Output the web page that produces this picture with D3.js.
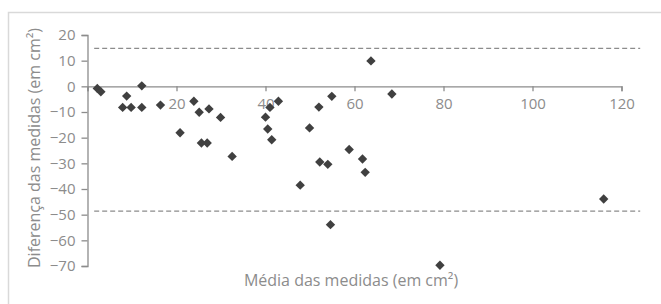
<!DOCTYPE html>
<html>
<head>
<meta charset="utf-8">
<script src="https://cdn.jsdelivr.net/npm/d3@7"></script>
<style>
  body { margin: 0; background: #fff; }
  svg text { font-family: "Open Sans", Lato, sans-serif; }
</style>
</head>
<body>
<svg id="chart"></svg>
<script>
/* Data */
const mediaValues = [2.2, 3.0, 7.9, 8.8, 9.8, 12.2, 12.2, 16.4, 20.8, 23.9, 25.1, 25.6, 26.9, 27.3, 29.9,
  32.5, 40.0, 40.5, 41.0, 41.4, 42.9, 47.8, 49.9, 52.0, 52.2, 54.0, 54.6, 54.9, 58.8, 61.8, 62.4,
  63.7, 68.4, 79.2, 116.0];
const diferencaValues = [-0.8, -2.1, -8.2, -3.8, -8.2, -8.2, 0.2, -7.3, -18.1, -5.8, -10.1, -22.1, -22.1, -8.8, -12.1,
  -27.3, -12.0, -16.6, -8.2, -20.8, -5.8, -38.5, -16.2, -8.1, -29.5, -30.4, -53.9, -3.9, -24.6, -28.3, -33.5,
  9.9, -3.0, -69.7, -43.9];
const limitValues = [14.8, -48.6];
const limitRange = [1.5, 124.2];
const xTicks = [0, 20, 40, 60, 80, 100, 120];
const yTicks = [20, 10, 0, -10, -20, -30, -40, -50, -60, -70];
const xTitle = "Média das medidas (em cm²)";
const yTitle = "Diferença das medidas (em cm²)";

const drawChart = () => {
  /* Define size */
  const width = 661,
    height = 304;

  const data = mediaValues.map((m, i) => ({ x: m, y: diferencaValues[i] }));

  const svg = d3.select("#chart").attr("width", width).attr("height", height);

  /* Frame */
  svg.append("rect")
    .attr("x", 8.5).attr("y", 12.5)
    .attr("width", 670).attr("height", 310)
    .attr("fill", "none")
    .attr("stroke", "#d9d9d9")
    .attr("stroke-width", 1.5);

  /* Build Scales */
  const xScale = d3.scaleLinear().domain([0, 120]).range([87.5, 621.5]);
  const yScale = d3.scaleLinear().domain([-70, 20]).range([266, 35]);

  /* Axes */
  const yAxis = d3.axisLeft(yScale).tickValues(yTicks).tickSize(6).tickPadding(6);
  const gy = svg.append("g")
    .attr("transform", `translate(${xScale(0)},0)`)
    .call(yAxis);

  const xAxis = d3.axisBottom(xScale)
    .tickValues(xTicks)
    .tickSize(5)
    .tickPadding(7)
    .tickFormat((d) => (d === 0 ? "" : d));
  const gx = svg.append("g")
    .attr("transform", `translate(0,${yScale(0)})`)
    .call(xAxis);

  [gx, gy].forEach((g) => {
    g.select(".domain").attr("stroke", "#8c8c8c").attr("stroke-width", 1.3);
    g.selectAll(".tick line").attr("stroke", "#8c8c8c").attr("stroke-width", 1.3);
    g.selectAll(".tick text")
      .attr("fill", "#8c8c8c")
      .style("font-size", "15px");
  });

  /* Limit lines */
  svg.selectAll("line.limit")
    .data(limitValues)
    .enter()
    .append("line")
    .attr("class", "limit")
    .attr("x1", xScale(limitRange[0]))
    .attr("x2", xScale(limitRange[1]))
    .attr("y1", (d) => yScale(d))
    .attr("y2", (d) => yScale(d))
    .attr("stroke", "#8c8c8c")
    .attr("stroke-width", 1.2)
    .attr("stroke-dasharray", "5,3");

  /* Points */
  const diamond = d3.symbol().type(d3.symbolSquare).size(44);
  svg.selectAll("path.pt")
    .data(data)
    .enter()
    .append("path")
    .attr("class", "pt")
    .attr("d", diamond)
    .attr("transform", (d) => `translate(${xScale(d.x)},${yScale(d.y)}) rotate(45)`)
    .attr("fill", "#404040");

  /* Titles */
  svg.append("text")
    .attr("x", 351)
    .attr("y", 286)
    .attr("text-anchor", "middle")
    .attr("fill", "#8c8c8c")
    .style("font-size", "16px")
    .text(xTitle);

  svg.append("text")
    .attr("transform", "translate(40,148) rotate(-90)")
    .attr("text-anchor", "middle")
    .attr("fill", "#8c8c8c")
    .style("font-size", "16px")
    .text(yTitle);
};

drawChart();
</script>
</body>
</html>
